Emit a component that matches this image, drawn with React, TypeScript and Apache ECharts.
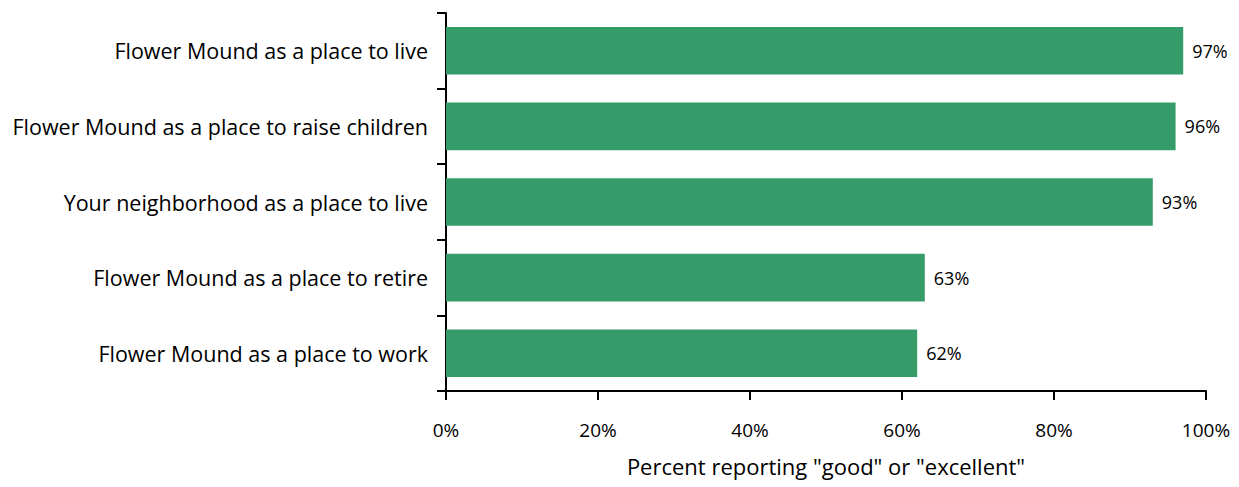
import React, { useEffect, useRef } from "react";
import * as echarts from "echarts";

const categories = [
  "Flower Mound as a place to live",
  "Flower Mound as a place to raise children",
  "Your neighborhood as a place to live",
  "Flower Mound as a place to retire",
  "Flower Mound as a place to work",
];
const values = [97, 96, 93, 63, 62];
const xTicks = [0, 20, 40, 60, 80, 100];
const xAxisTitle = 'Percent reporting "good" or "excellent"';

const FONT = "'Open Sans', 'Noto Sans', sans-serif";

export default function App() {
  const ref = useRef<HTMLDivElement>(null);
  useEffect(() => {
    if (!ref.current) return;
    const chart = echarts.init(ref.current, null, { renderer: "svg" });
    chart.setOption({
      animation: false,
      backgroundColor: "#ffffff",
      textStyle: { fontFamily: FONT },
      grid: { left: 446, right: 33, top: 13, bottom: 96, containLabel: false },
      xAxis: {
        type: "value",
        min: xTicks[0],
        max: xTicks[xTicks.length - 1],
        interval: 20,
        name: xAxisTitle,
        nameLocation: "middle",
        nameGap: 64,
        nameTextStyle: { fontSize: 22, color: "#000", fontFamily: FONT },
        axisLine: { show: true, lineStyle: { color: "#000", width: 2 } },
        axisTick: { show: true, length: 9, lineStyle: { color: "#000", width: 2 } },
        axisLabel: {
          formatter: "{value}%",
          fontSize: 19,
          color: "#000",
          margin: 29,
          fontFamily: FONT,
        },
        splitLine: { show: false },
      },
      yAxis: {
        type: "category",
        data: categories,
        inverse: true,
        axisLine: { show: true, lineStyle: { color: "#000", width: 2 } },
        axisTick: { show: true, length: 9, lineStyle: { color: "#000", width: 2 } },
        axisLabel: { fontSize: 21.5, color: "#000", margin: 18, fontFamily: FONT },
      },
      series: [
        {
          type: "bar",
          data: values,
          barCategoryGap: "37%",
          itemStyle: { color: "#359B68" },
          label: {
            show: true,
            position: "right",
            distance: 9,
            formatter: "{c}%",
            fontSize: 18,
            color: "#000",
            fontFamily: FONT,
          },
        },
      ],
    });
    return () => chart.dispose();
  }, []);
  return (
    <div
      ref={ref}
      style={{ position: "fixed", left: 0, top: 0, width: 1239, height: 487 }}
    />
  );
}
